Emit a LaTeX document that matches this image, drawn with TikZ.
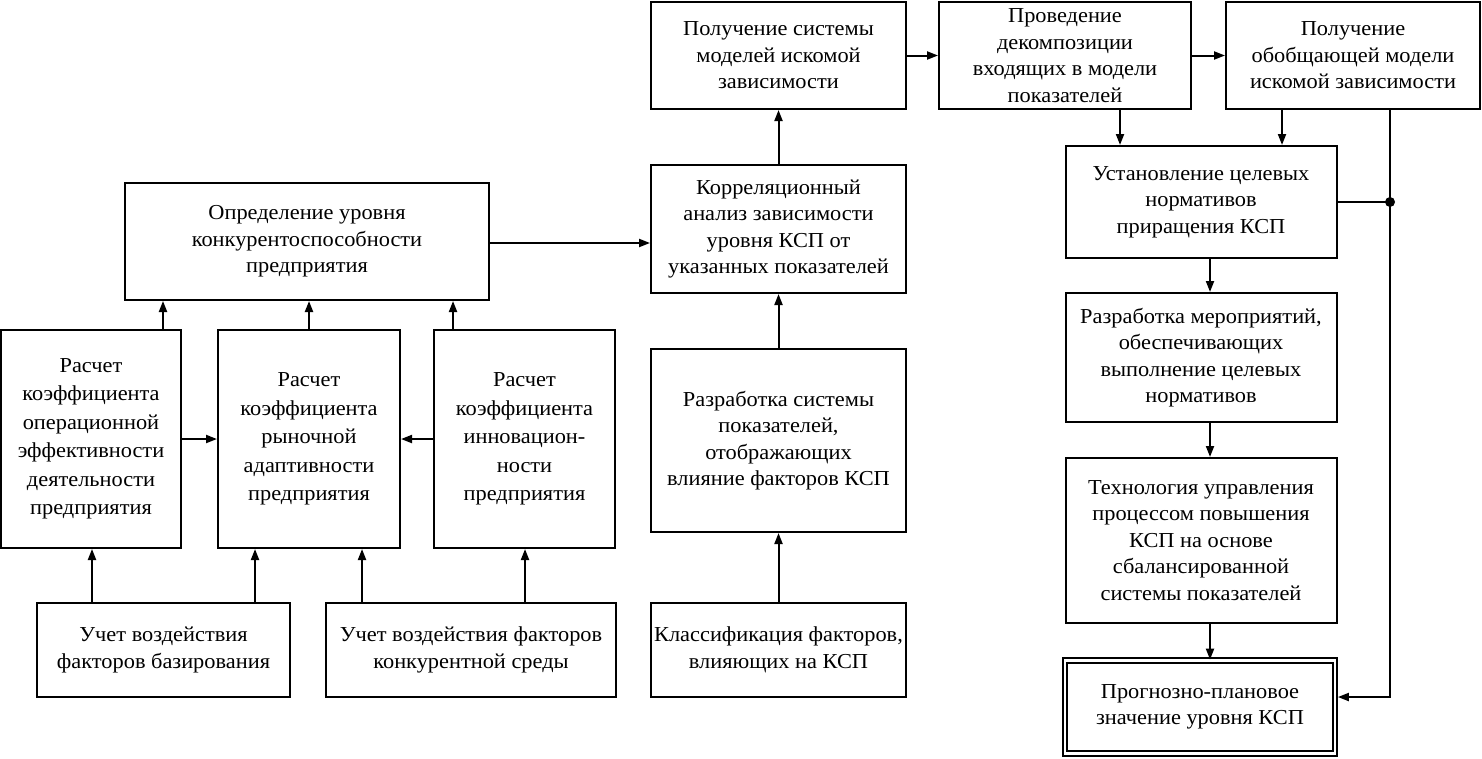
\documentclass[tikz,border=0pt]{standalone}
\usepackage{fontspec}
\setmainfont[FakeStretch=1.05]{Liberation Serif}
\usetikzlibrary{arrows.meta}
\begin{document}
\begin{tikzpicture}[x=1pt,y=-1pt,
  box/.style={draw, line width=2pt, align=center, inner sep=0pt,
    font=\fontsize{21.3}{26.5}\selectfont},
  tall/.style={font=\fontsize{21.3}{28.5}\selectfont},
  arr/.style={line width=2pt, -{Triangle[length=11pt,width=8pt]}},
  ln/.style={line width=2pt}]
\useasboundingbox[fill=white] (0,0) rectangle (1482,758);

% left part
\node[box, minimum width=364pt, minimum height=117pt] (A) at (307,241.5)
  {Определение уровня\\конкурентоспособности\\предприятия};
\node[box, tall, minimum width=180pt, minimum height=218pt] (B1) at (91,439)
  {Расчет\\коэффициента\\операционной\\эффективности\\деятельности\\предприятия};
\node[box, tall, minimum width=182pt, minimum height=218pt] (B2) at (309,439)
  {Расчет\\коэффициента\\рыночной\\адаптивности\\предприятия};
\node[box, tall, minimum width=181pt, minimum height=218pt] (B3) at (524.5,439)
  {Расчет\\коэффициента\\инновацион-\\ности\\предприятия};
\node[box, minimum width=253pt, minimum height=94pt] (C1) at (163.5,650)
  {Учет воздействия\\факторов базирования};
\node[box, minimum width=290pt, minimum height=94pt] (C2) at (471,650)
  {Учет воздействия факторов\\конкурентной среды};

% middle column
\node[box, minimum width=255pt, minimum height=107pt] (E) at (778.5,55.5)
  {Получение системы\\моделей искомой\\зависимости};
\node[box, minimum width=255pt, minimum height=128pt] (D) at (778.5,229)
  {Корреляционный\\анализ зависимости\\уровня КСП от\\указанных показателей};
\node[box, minimum width=255pt, minimum height=183pt] (F) at (778.5,440.5)
  {Разработка системы\\показателей,\\отображающих\\влияние факторов КСП};
\node[box, minimum width=255pt, minimum height=94pt] (G) at (778.5,650)
  {Классификация факторов,\\влияющих на КСП};

% right part
\node[box, minimum width=252pt, minimum height=107pt] (H) at (1065,55.5)
  {Проведение\\декомпозиции\\входящих в модели\\показателей};
\node[box, minimum width=254pt, minimum height=107pt] (I) at (1353,55.5)
  {Получение\\обобщающей модели\\искомой зависимости};
\node[box, minimum width=271pt, minimum height=112pt] (J) at (1201,202)
  {Установление целевых\\нормативов\\приращения КСП};
\node[box, minimum width=271pt, minimum height=129pt] (K) at (1201,357.5)
  {Разработка мероприятий,\\обеспечивающих\\выполнение целевых\\нормативов};
\node[box, minimum width=271pt, minimum height=165pt] (L) at (1201,540.5)
  {Технология управления\\процессом повышения\\КСП на основе\\сбалансированной\\системы показателей};
\node[box, double, double distance=2.6pt, line width=1.8pt,
  minimum width=270pt, minimum height=93pt] (M) at (1200,707)
  {Прогнозно-плановое\\значение уровня КСП};

% connectors: left
\coordinate (b1t) at ([xshift=72pt]B1.north);
\coordinate (b3t) at ([xshift=-71.5pt]B3.north);
\draw[arr] (b1t) -- (b1t |- A.south);
\draw[arr] (B2.north) -- (B2.north |- A.south);
\draw[arr] (b3t) -- (b3t |- A.south);
\draw[arr] (B1.east) -- (B2.west);
\draw[arr] (B3.west) -- (B2.east);
\coordinate (c1a) at ([xshift=-71.5pt]C1.north);
\coordinate (c1b) at ([xshift=91.5pt]C1.north);
\coordinate (c2a) at ([xshift=-109pt]C2.north);
\coordinate (c2b) at ([xshift=54pt]C2.north);
\draw[arr] (c1a) -- (c1a |- B1.south);
\draw[arr] (c1b) -- (c1b |- B2.south);
\draw[arr] (c2a) -- (c2a |- B2.south);
\draw[arr] (c2b) -- (c2b |- B3.south);
\draw[arr] ([yshift=-1.5pt]A.east) -- ([yshift=-1.5pt]A.east -| D.west);

% connectors: middle
\draw[arr] (G.north) -- (F.south);
\draw[arr] (F.north) -- (D.south);
\draw[arr] (D.north) -- (E.south);
\draw[arr] (E.east) -- (H.west);
\draw[arr] (H.east) -- (I.west);

% connectors: right
\coordinate (ha) at ([xshift=55pt]H.south);
\coordinate (ia) at ([xshift=-71pt]I.south);
\coordinate (ib) at ([xshift=37pt]I.south);
\draw[arr] (ha) -- (ha |- J.north);
\draw[arr] (ia) -- (ia |- J.north);
\coordinate (jk) at ([xshift=9pt]J.south);
\draw[arr] (jk) -- (jk |- K.north);
\coordinate (kl) at ([xshift=9pt]K.south);
\draw[arr] (kl) -- (kl |- L.north);
\coordinate (lm) at ([xshift=9pt]L.south);
\draw[arr] (lm) -- (lm |- M.north);
\coordinate (mr) at ([yshift=10pt]M.east);
\draw[arr] (ib) |- ([xshift=2pt]mr);
\coordinate (dot) at (ib |- J.east);
\draw[ln] (J.east) -- (dot);
\fill (dot) circle (5pt);
\end{tikzpicture}
\end{document}
